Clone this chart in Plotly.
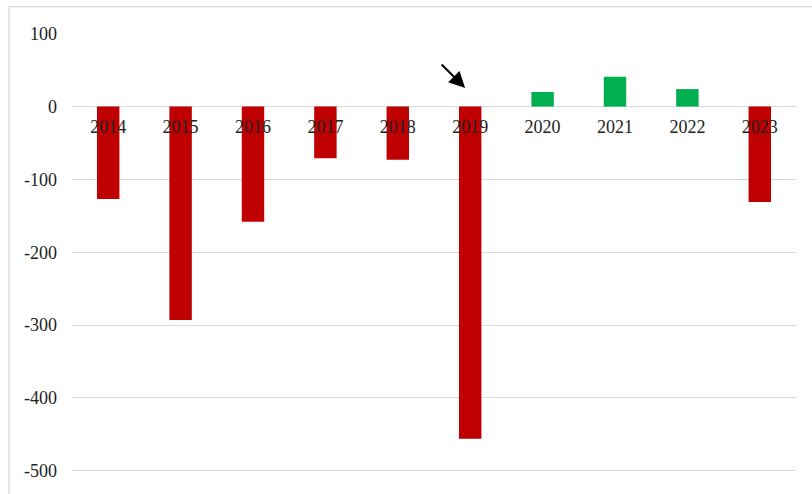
import plotly.graph_objects as go

years = ["2014", "2015", "2016", "2017", "2018", "2019", "2020", "2021", "2022", "2023"]
values = [-127, -293, -158, -71, -73, -456, 20, 41, 24, -131]
y_ticks = [100, 0, -100, -200, -300, -400, -500]

RED = "#C00000"
GREEN = "#00B050"
colors = [GREEN if v > 0 else RED for v in values]

FONT = "Liberation Serif, Times New Roman, serif"

fig = go.Figure()
fig.add_trace(go.Bar(
    x=years, y=values, marker=dict(color=colors, line=dict(width=0)),
    width=0.31, showlegend=False, hoverinfo="x+y",
))

y_min, y_max = -503, 101
zero_frac = (0 - y_min) / (y_max - y_min)

fig.update_layout(
    width=812, height=494,
    margin=dict(l=72, r=16, t=33, b=21),
    paper_bgcolor="white", plot_bgcolor="white",
    font=dict(family=FONT, size=18, color="#222222"),
    xaxis=dict(
        type="category", range=[-0.5, 9.5],
        showgrid=False, showline=False, zeroline=False,
        ticks="", anchor="free", position=zero_frac,
        tickfont=dict(family=FONT, size=18, color="#222222"),
        ticklabelstandoff=7,
    ),
    yaxis=dict(
        range=[y_min, y_max],
        tickvals=y_ticks, ticktext=[str(t) for t in y_ticks],
        showgrid=True, gridcolor="#d9d9d9", gridwidth=1.3,
        zeroline=True, zerolinecolor="#d9d9d9", zerolinewidth=1.3,
        showline=False, ticks="", ticklabelstandoff=14,
        tickfont=dict(family=FONT, size=18, color="#222222"),
    ),
    shapes=[dict(
        type="rect", xref="paper", yref="paper",
        x0=-0.087, x1=1.2, y0=-0.2, y1=1.06,
        line=dict(color="#d9d9d9", width=1.3), fillcolor="rgba(0,0,0,0)",
        layer="below",
    )],
    annotations=[dict(
        x=0.543, y=0.875, xref="paper", yref="paper",
        ax=-25, ay=-25,
        showarrow=True, arrowhead=2, arrowsize=1.6, arrowwidth=2,
        arrowcolor="black", text="",
    )],
)

fig.write_html("out.html")
